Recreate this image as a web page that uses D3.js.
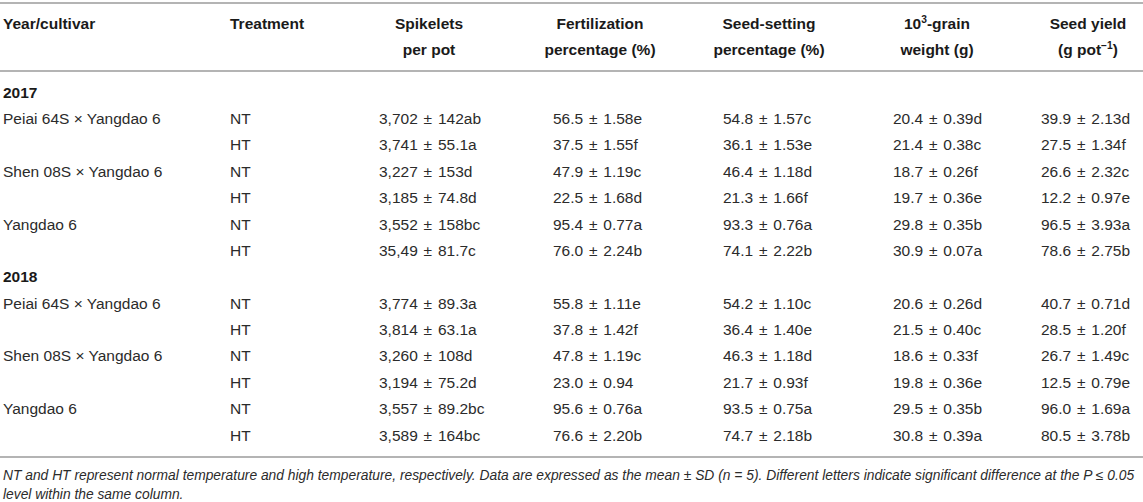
<!DOCTYPE html>
<html>
<head>
<meta charset="utf-8">
<script src="https://cdn.jsdelivr.net/npm/d3@7/dist/d3.min.js"></script>
<style>
  html, body { margin: 0; padding: 0; background: #fff; }
  svg text { font-family: "Liberation Sans", Arial, Helvetica, sans-serif; }
</style>
</head>
<body>
<svg id="chart" width="1143" height="502"></svg>
<script>
// ---------------- data ----------------
const years = ["2017", "2018"];
const cultivars = ["Peiai 64S × Yangdao 6", "Shen 08S × Yangdao 6", "Yangdao 6"];
const treatments = ["NT", "HT"];

const spikelets = [
  "3,702 ± 142ab", "3,741 ± 55.1a", "3,227 ± 153d", "3,185 ± 74.8d", "3,552 ± 158bc", "35,49 ± 81.7c",
  "3,774 ± 89.3a", "3,814 ± 63.1a", "3,260 ± 108d", "3,194 ± 75.2d", "3,557 ± 89.2bc", "3,589 ± 164bc"
];
const fertilization = [
  "56.5 ± 1.58e", "37.5 ± 1.55f", "47.9 ± 1.19c", "22.5 ± 1.68d", "95.4 ± 0.77a", "76.0 ± 2.24b",
  "55.8 ± 1.11e", "37.8 ± 1.42f", "47.8 ± 1.19c", "23.0 ± 0.94", "95.6 ± 0.76a", "76.6 ± 2.20b"
];
const seedSetting = [
  "54.8 ± 1.57c", "36.1 ± 1.53e", "46.4 ± 1.18d", "21.3 ± 1.66f", "93.3 ± 0.76a", "74.1 ± 2.22b",
  "54.2 ± 1.10c", "36.4 ± 1.40e", "46.3 ± 1.18d", "21.7 ± 0.93f", "93.5 ± 0.75a", "74.7 ± 2.18b"
];
const grainWeight = [
  "20.4 ± 0.39d", "21.4 ± 0.38c", "18.7 ± 0.26f", "19.7 ± 0.36e", "29.8 ± 0.35b", "30.9 ± 0.07a",
  "20.6 ± 0.26d", "21.5 ± 0.40c", "18.6 ± 0.33f", "19.8 ± 0.36e", "29.5 ± 0.35b", "30.8 ± 0.39a"
];
const seedYield = [
  "39.9 ± 2.13d", "27.5 ± 1.34f", "26.6 ± 2.32c", "12.2 ± 0.97e", "96.5 ± 3.93a", "78.6 ± 2.75b",
  "40.7 ± 0.71d", "28.5 ± 1.20f", "26.7 ± 1.49c", "12.5 ± 0.79e", "96.0 ± 1.69a", "80.5 ± 3.78b"
];
const headers = [
  ["Year/cultivar", ""],
  ["Treatment", ""],
  ["Spikelets", "per pot"],
  ["Fertilization", "percentage (%)"],
  ["Seed-setting", "percentage (%)"],
  ["10|3|-grain", "weight (g)"],
  ["Seed yield", "(g pot|−1|)"]
];
const footnote = [
  "NT and HT represent normal temperature and high temperature, respectively. Data are expressed as the mean ± SD (n = 5). Different letters indicate significant difference at the P ≤ 0.05",
  "level within the same column."
];

// ---------------- layout ----------------
const W = 1143, H = 502;
const svg = d3.select("#chart");
const FS = 15.5;
const headColor = "#1a1a1a";
const textColor = "#2b2b2b";
const lineColor = "#b4b4b4";

const valueCols = [spikelets, fertilization, seedSetting, grainWeight, seedYield];
const x = d3.scaleOrdinal()
  .domain(d3.range(7))
  .range([3, 230, 379, 553, 723, 893, 1041]);
const headerCenter = d3.scaleOrdinal()
  .domain(d3.range(7))
  .range([3, 230, 429, 600, 769, 937, 1088]);

const rows = [];
years.forEach((yr, yi) => {
  rows.push({type: "year", label: yr});
  cultivars.forEach((cv, ci) => {
    treatments.forEach((tr, ti) => {
      const idx = yi * 6 + ci * 2 + ti;
      rows.push({type: "data", cultivar: ti === 0 ? cv : "", treatment: tr,
        values: valueCols.map(c => c[idx])});
    });
  });
});

const y = d3.scalePoint().domain(d3.range(rows.length)).range([92, 435]);

// horizontal rules
const rules = [3, 71, 457];
svg.selectAll("line.rule").data(rules).join("line")
  .attr("class", "rule")
  .attr("x1", 0).attr("x2", W)
  .attr("y1", d => d).attr("y2", d => d)
  .attr("stroke", lineColor).attr("stroke-width", 2);

// rich text with |sup| segments
function richText(sel, str) {
  const parts = str.split("|");
  let pendingDown = 0;
  parts.forEach((p, i) => {
    if (!p) return;
    const ts = sel.append("tspan").text(p);
    if (i % 2 === 1) {
      ts.attr("font-size", FS * 0.66).attr("dy", -6);
      pendingDown = 6;
    } else if (pendingDown) {
      ts.attr("dy", pendingDown);
      pendingDown = 0;
    }
  });
}

// headers
const hy = [23, 49];
headers.forEach((h, ci) => {
  h.forEach((line, li) => {
    if (!line) return;
    const t = svg.append("text")
      .attr("x", ci < 2 ? x(ci) : headerCenter(ci))
      .attr("y", hy[li])
      .attr("dy", "0.36em")
      .attr("text-anchor", ci < 2 ? "start" : "middle")
      .attr("font-weight", "bold")
      .attr("font-size", FS)
      .attr("fill", headColor);
    richText(t, line);
  });
});

// body rows
const rowG = svg.selectAll("g.row").data(rows).join("g")
  .attr("class", "row")
  .attr("transform", (d, i) => `translate(0,${y(i)})`);

rowG.filter(d => d.type === "year").append("text")
  .attr("x", x(0)).attr("dy", "0.36em")
  .attr("font-weight", "bold").attr("font-size", FS).attr("fill", headColor)
  .text(d => d.label);

const dataRows = rowG.filter(d => d.type === "data");
dataRows.append("text")
  .attr("x", x(0)).attr("dy", "0.36em")
  .attr("font-size", FS).attr("fill", textColor)
  .text(d => d.cultivar);
dataRows.append("text")
  .attr("x", x(1)).attr("dy", "0.36em")
  .attr("font-size", FS).attr("fill", textColor)
  .text(d => d.treatment);
dataRows.selectAll("text.val").data(d => d.values).join("text")
  .attr("class", "val")
  .attr("x", (d, i) => x(i + 2)).attr("dy", "0.36em")
  .attr("font-size", FS).attr("word-spacing", 1.5).attr("fill", textColor)
  .text(d => d);

// footnote (font size fitted so the first line spans the table width)
const fy = [475, 494];
const footTexts = footnote.map((line, li) => svg.append("text")
  .attr("x", 3).attr("y", fy[li]).attr("dy", "0.36em")
  .attr("font-size", 14).attr("font-style", "italic").attr("fill", textColor)
  .text(line));
const natural = footTexts[0].node().getComputedTextLength();
const fitSize = Math.min(14, 14 * 1132 / natural);
footTexts.forEach(t => t.attr("font-size", fitSize));
</script>
</body>
</html>
